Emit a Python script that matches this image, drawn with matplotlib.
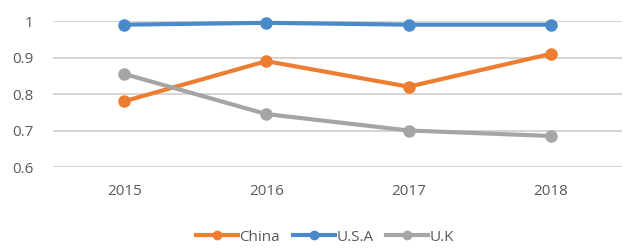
import matplotlib
matplotlib.use("Agg")
import matplotlib.pyplot as plt

years = ["2015", "2016", "2017", "2018"]
china = [0.78, 0.89, 0.82, 0.91]
usa = [0.99, 0.995, 0.99, 0.99]
uk = [0.855, 0.745, 0.70, 0.685]
yticks = [0.6, 0.7, 0.8, 0.9, 1.0]
ytick_labels = ["0.6", "0.7", "0.8", "0.9", "1"]

plt.rcParams['font.family'] = ['Open Sans', 'DejaVu Sans']

fig = plt.figure(figsize=(6.23, 2.49), dpi=100)
ax = fig.add_axes([53 / 623, 1 - 167 / 249, 569 / 623, 146 / 249])

x = range(len(years))
series = [("China", china, "#ED7D31"), ("U.S.A", usa, "#4A8ACB"), ("U.K", uk, "#A5A5A5")]
for name, vals, col in series:
    ax.plot(x, vals, color=col, lw=3, marker="o", ms=8, label=name, clip_on=False, zorder=3)

ax.set_xlim(-0.5, len(years) - 0.5)
ax.set_ylim(0.6, 1.0)
ax.set_yticks(yticks)
ax.set_yticklabels(ytick_labels)
ax.set_xticks(list(x))
ax.set_xticklabels(years)
ax.grid(axis="y", color="#D0CCC8", lw=1.2)
ax.set_axisbelow(True)
for s in ax.spines.values():
    s.set_visible(False)
ax.tick_params(length=0, labelsize=11, colors="#595959")
ax.tick_params(axis="x", pad=12)
ax.tick_params(axis="y", pad=14)

ax.legend(loc="center", bbox_to_anchor=((325 - 53) / 569, (167 - 237) / 146), ncol=3, frameon=False,
          fontsize=11, handlelength=2.75, columnspacing=0.85, handletextpad=0.1,
          markerscale=0.75, labelcolor="#595959")

fig.savefig("out.png", dpi=100)
